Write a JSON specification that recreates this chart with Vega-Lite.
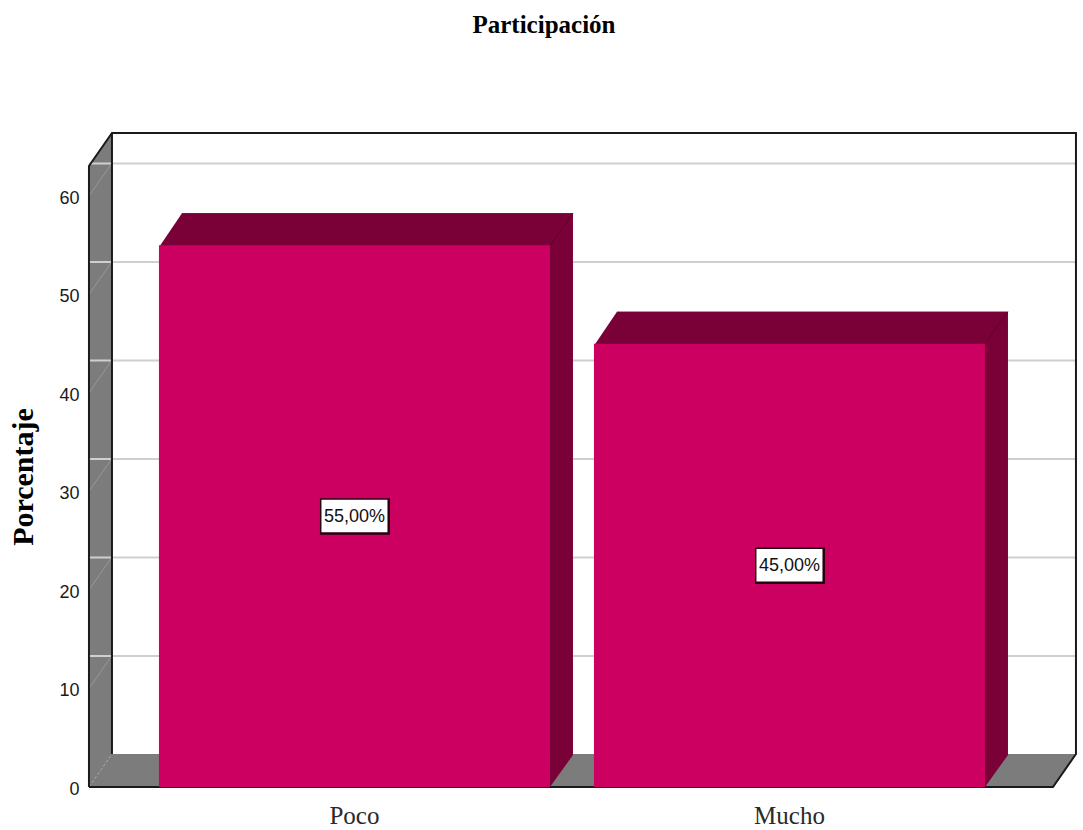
{
"$schema":"https://vega.github.io/schema/vega-lite/v6.json",
"width":964,"height":621,
"autosize":{"type":"none"},
"padding":{"left":89,"top":166,"right":30,"bottom":43},
"background":"white",
"config":{"view":{"stroke":null},
 "axisX":{"labelAngle":0,"ticks":false,"domain":false,"labelFont":"Liberation Serif","labelFontSize":25,"labelColor":"#2a2a2a","labelPadding":16,"grid":false},
 "axisY":{"tickCount":7,"titleFont":"Liberation Serif","titleFontWeight":"bold","titleFontSize":30,"titleColor":"#000000","titlePadding":20,"ticks":false,"domain":false,"grid":false,"labelFont":"Liberation Sans","labelFontSize":18,"labelColor":"#1a1a1a","labelPadding":10,"labelOffset":2}},
"title":{"text":"Participación","font":"Liberation Serif","fontWeight":"bold","fontSize":25,"anchor":"middle","dx":-27,"offset":91,"color":"#000000"},
"datasets":{
"barras":[{"categoria":"Poco","porcentaje":55,"etiqueta":"55,00%"},{"categoria":"Mucho","porcentaje":45,"etiqueta":"45,00%"}],
"base":[{"categoria":"Poco","porcentaje":0}],
"marcas":[{"categoria":"Poco","porcentaje":10},{"categoria":"Poco","porcentaje":20},{"categoria":"Poco","porcentaje":30},{"categoria":"Poco","porcentaje":40},{"categoria":"Poco","porcentaje":50},{"categoria":"Poco","porcentaje":60}]
},
"resolve":{"scale":{"y":"independent"}},
"layer":[
{"layer":[
{"data":{"name":"base"},
 "mark":{"type":"point","filled":true,"opacity":1,"size":4,"strokeWidth":0,"color":"#7c7c7c","shape":"M-265.5,0L-265.5,-621L-242.5,-654L-242.5,-33L721.5,-33L698.5,0Z"},
 "encoding":{"x":{"field":"categoria","type":"nominal","sort":["Poco","Mucho"],"title":null},"y":{"field":"porcentaje","type":"quantitative","title":"Porcentaje"}}},
{"data":{"name":"marcas"},
 "mark":{"type":"rule","color":"#cfcfcf","strokeWidth":2,"xOffset":23,"x2Offset":23,"yOffset":-32.5},
 "encoding":{"y":{"field":"porcentaje","type":"quantitative","title":"Porcentaje"}}},
{"data":{"name":"marcas"},
 "mark":{"type":"point","filled":false,"opacity":1,"size":4,"strokeWidth":1,"color":"#989898","shape":"M-265.5,0L-242.5,-33"},
 "encoding":{"x":{"field":"categoria","type":"nominal","sort":["Poco","Mucho"],"title":null},"y":{"field":"porcentaje","type":"quantitative","title":"Porcentaje"}}},
{"data":{"name":"base"},
 "mark":{"type":"point","filled":false,"opacity":1,"size":4,"strokeWidth":1,"color":"#a8a8a8","strokeDash":[3,2],"shape":"M-265.5,0L-242.5,-33"},
 "encoding":{"x":{"field":"categoria","type":"nominal","sort":["Poco","Mucho"],"title":null},"y":{"field":"porcentaje","type":"quantitative","title":"Porcentaje"}}},
{"data":{"name":"base"},
 "mark":{"type":"point","filled":false,"opacity":1,"size":4,"strokeWidth":2,"color":"#1a1a1a","shape":"M-242.5,-33L-242.5,-654M-265.5,0L-265.5,-621L-242.5,-654L721.5,-654L721.5,-33L698.5,0L-265.5,0"},
 "encoding":{"x":{"field":"categoria","type":"nominal","sort":["Poco","Mucho"],"title":null},"y":{"field":"porcentaje","type":"quantitative","title":"Porcentaje"}}},
{"data":{"name":"barras"},
 "mark":{"type":"bar","color":"#7a0038","xOffset":23,"x2Offset":23,"yOffset":-32,"y2Offset":-32},
 "encoding":{"x":{"field":"categoria","type":"nominal","sort":["Poco","Mucho"],"title":null},"y":{"field":"porcentaje","type":"quantitative","title":"Porcentaje"}}},
{"data":{"name":"barras"},
 "mark":{"type":"point","filled":true,"opacity":1,"size":4,"strokeWidth":0,"color":"#7a0038","shape":"M-195.5,2L195.5,2L218.5,-32L-172.5,-32Z"},
 "encoding":{"x":{"field":"categoria","type":"nominal","sort":["Poco","Mucho"],"title":null},"y":{"field":"porcentaje","type":"quantitative","title":"Porcentaje"}}},
{"data":{"name":"barras"},
 "mark":{"type":"point","filled":false,"opacity":1,"size":4,"strokeWidth":1,"color":"#5f002c","shape":"M195.5,0L218.5,-32"},
 "encoding":{"x":{"field":"categoria","type":"nominal","sort":["Poco","Mucho"],"title":null},"y":{"field":"porcentaje","type":"quantitative","title":"Porcentaje"}}},
{"data":{"name":"barras"},
 "mark":{"type":"point","filled":true,"opacity":1,"size":4,"strokeWidth":0,"color":"#7a0038","shape":"M195.5,0L218.5,-32L195.5,-32Z"},
 "encoding":{"x":{"field":"categoria","type":"nominal","sort":["Poco","Mucho"],"title":null},"y":{"datum":0,"type":"quantitative","title":"Porcentaje"}}},
{"data":{"name":"barras"},
 "mark":{"type":"bar","color":"#cc0060"},
 "encoding":{
  "x":{"field":"categoria","type":"nominal","sort":["Poco","Mucho"],"title":null,"scale":{"paddingInner":0.1011,"paddingOuter":0.1586,"align":0.507}},
  "y":{"field":"porcentaje","type":"quantitative","title":"Porcentaje","scale":{"domain":[0,63.05],"nice":false,"zero":false}}}}
]},
{"data":{"name":"barras"},
 "layer":[
 {"mark":{"type":"point","filled":true,"opacity":1,"size":4,"strokeWidth":0,"color":"#26000f","shape":"M-34.5,-18H35.5V18.5H-34.5Z"}},
 {"mark":{"type":"point","filled":true,"opacity":1,"size":4,"strokeWidth":0,"color":"#ffffff","shape":"M-33,-16.5H33V16H-33Z"}},
 {"mark":{"type":"text","font":"Liberation Sans","fontSize":18,"color":"#111111","align":"center","baseline":"middle","dy":1},
  "encoding":{"text":{"field":"etiqueta","type":"nominal"}}}
 ],
 "encoding":{"x":{"field":"categoria","type":"nominal","sort":["Poco","Mucho"],"title":null},
  "y":{"field":"porcentaje","type":"quantitative","axis":null,"scale":{"domain":[0,126.1],"nice":false,"zero":false}}}}
]}
